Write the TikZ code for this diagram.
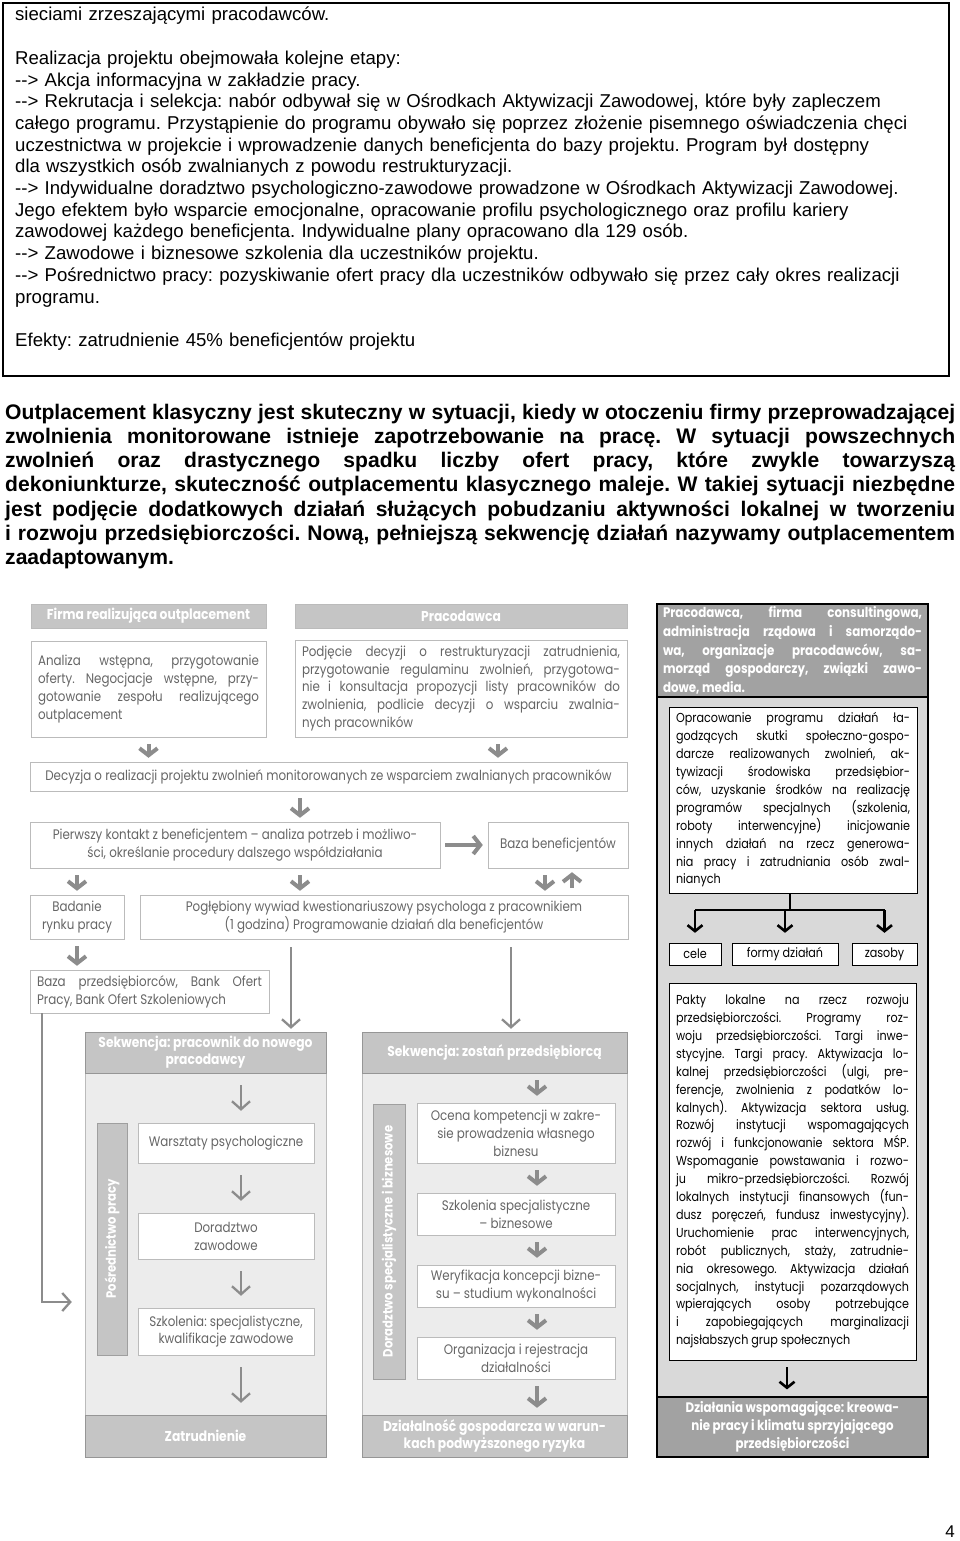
\documentclass[tikz,border=0pt]{standalone}
\usepackage{fontspec}
\setmainfont{Liberation Sans}
\newfontfamily\dfont{Poppins}[FakeStretch=0.86]
\usetikzlibrary{arrows.meta}
\frenchspacing

\definecolor{hdgray}{HTML}{C5C5C5}
\definecolor{bggray}{HTML}{ECECEC}
\definecolor{lngray}{HTML}{BBBBBB}
\definecolor{txgray}{HTML}{666666}
\definecolor{argray}{HTML}{8C8C8C}
\definecolor{rhgray}{HTML}{A2A2A2}
\definecolor{rbgray}{HTML}{D9D9D9}

\tikzset{
  hbar/.style={fill=hdgray, draw=lngray, text=white, align=center, inner sep=0pt,
    font=\dfont\bfseries\fontsize{14.3}{17}\selectfont},
  lbox/.style={fill=white, draw=lngray, text=txgray, inner xsep=7pt, inner ysep=0pt,
    font=\dfont\fontsize{13.8}{17.9}\selectfont},
  vbar/.style={fill=hdgray, draw=lngray!85!black, text=white, rotate=90, inner sep=0pt,
    font=\dfont\bfseries\fontsize{13.5}{15}\selectfont},
  rbox/.style={fill=white, draw=black, text=black, inner xsep=7pt, inner ysep=0pt,
    font=\dfont\fontsize{13}{17.9}\selectfont},
  chev/.style={draw=argray, line width=4pt, -{Straight Barb[length=7pt,width=18pt]},
    shorten <=7pt, shorten >=4pt},
  tarr/.style={draw=argray, line width=2.3pt, -{Straight Barb[length=8pt,width=18pt]}},
  barr/.style={draw=black, line width=2.6pt, -{Straight Barb[length=6pt,width=15pt]}},
}

\begin{document}
\begin{tikzpicture}[x=1pt,y=-1pt]
  \useasboundingbox (0,0) rectangle (960,1541);

  % ramka z opisem projektu
  \node[draw, line width=1.2pt, minimum width=946, minimum height=373] (frame) at (476,189.5) {};
  \node[anchor=base west, text width=930, align=left, inner sep=0pt,
    font=\fontsize{18.6}{21.7}\selectfont] (opis) at (15,21) {%
    sieciami zrzeszającymi pracodawców.\\
    \mbox{}\\
    Realizacja projektu obejmowała kolejne etapy:\\
    -{}-> Akcja informacyjna w zakładzie pracy.\\
    -{}-> Rekrutacja i selekcja: nabór odbywał się w Ośrodkach Aktywizacji Zawodowej, które były zapleczem\\
    całego programu. Przystąpienie do programu obywało się poprzez złożenie pisemnego oświadczenia chęci\\
    uczestnictwa w projekcie i wprowadzenie danych beneficjenta do bazy projektu. Program był dostępny\\
    dla wszystkich osób zwalnianych z powodu restrukturyzacji.\\
    -{}-> Indywidualne doradztwo psychologiczno-zawodowe prowadzone w Ośrodkach Aktywizacji Zawodowej.\\
    Jego efektem było wsparcie emocjonalne, opracowanie profilu psychologicznego oraz profilu kariery\\
    zawodowej każdego beneficjenta. Indywidualne plany opracowano dla 129 osób.\\
    -{}-> Zawodowe i biznesowe szkolenia dla uczestników projektu.\\
    -{}-> Pośrednictwo pracy: pozyskiwanie ofert pracy dla uczestników odbywało się przez cały okres realizacji\\
    programu.\\
    \mbox{}\\
    Efekty: zatrudnienie 45\% beneficjentów projektu};

  % akapit pogrubiony
  \node[anchor=base west, text width=950, align=justify, inner sep=0pt,
    font=\bfseries\fontsize{21.1}{24.3}\selectfont] (akapit) at (5,419) {%
    Outplacement klasyczny jest skuteczny w~sytuacji, kiedy w~otoczeniu firmy przeprowadzającej\linebreak
    zwolnienia monitorowane istnieje zapotrzebowanie na pracę. W~sytuacji powszechnych\linebreak
    zwolnień oraz drastycznego spadku liczby ofert pracy, które zwykle towarzyszą\linebreak
    dekoniunkturze, skuteczność outplacementu klasycznego maleje. W~takiej sytuacji niezbędne\linebreak
    jest podjęcie dodatkowych działań służących pobudzaniu aktywności lokalnej w~tworzeniu\linebreak
    i~rozwoju przedsiębiorczości. Nową, pełniejszą sekwencję działań nazywamy outplacementem\linebreak
    zaadaptowanym.};

  % schemat: kolumna lewa i srodkowa
  \node[hbar, minimum width=235, minimum height=24] (firma) at (148.5,616) {Firma realizująca outplacement};
  \node[hbar, minimum width=332, minimum height=24] (pracod) at (461,616) {Pracodawca};
  \node[lbox, text width=221, minimum height=96, align=justify] (analiza) at (148.5,689) {%
    Analiza wstępna, przygotowanie\linebreak oferty. Negocjacje wstępne, przy-\linebreak
    gotowanie zespołu realizującego\linebreak outplacement};
  \node[lbox, text width=318, minimum height=97, align=justify] (podjecie) at (461,688.5) {%
    Podjęcie decyzji o~restrukturyzacji zatrudnienia,\linebreak przygotowanie regulaminu zwolnień, przygotowa-\linebreak
    nie i~konsultacja propozycji listy pracowników do\linebreak zwolnienia, podlicie decyzji o~wsparciu zwalnia-\linebreak
    nych pracowników};
  \node[lbox, minimum width=597, minimum height=29] (decyzja) at (328.5,776.5)
    {Decyzja o~realizacji projektu zwolnień monitorowanych ze wsparciem zwalnianych pracowników};
  \node[lbox, align=center, minimum width=410, minimum height=46] (kontakt) at (235,845)
    {Pierwszy kontakt z~beneficjentem – analiza potrzeb i~możliwo-\\ści, określanie procedury dalszego współdziałania};
  \node[lbox, minimum width=140, minimum height=46] (bazab) at (558,845) {Baza beneficjentów};
  \node[lbox, align=center, minimum width=94, minimum height=44, inner xsep=2pt] (badanie) at (77,917) {Badanie\\rynku pracy};
  \node[lbox, align=center, minimum width=488, minimum height=44] (wywiad) at (384,917)
    {Pogłębiony wywiad kwestionariuszowy psychologa z~pracownikiem\\(1 godzina) Programowanie działań dla beneficjentów};
  \node[lbox, text width=225, minimum height=43, align=justify] (bazap) at (149.5,991.5) {%
    Baza przedsiębiorców, Bank Ofert\linebreak Pracy, Bank Ofert Szkoleniowych};

  % sekwencja: pracownik do nowego pracodawcy
  \node[fill=bggray, draw=lngray, minimum width=241, minimum height=425] (seqa) at (205.5,1244.5) {};
  \node[hbar, draw=lngray!80!black, minimum width=241, minimum height=41] (seqahd) at (205.5,1052.5) {Sekwencja: pracownik do nowego\\pracodawcy};
  \node[hbar, draw=lngray!80!black, minimum width=241, minimum height=42] (seqaft) at (205.5,1436) {Zatrudnienie};
  \node[vbar, minimum width=232, minimum height=30] (posr) at (112,1239) {Pośrednictwo pracy};
  \node[lbox, minimum width=176, minimum height=40] (warsz) at (226,1143) {Warsztaty psychologiczne};
  \node[lbox, align=center, minimum width=176, minimum height=46] (dorad) at (226,1236) {Doradztwo\\zawodowe};
  \node[lbox, align=center, minimum width=176, minimum height=47] (szkol) at (226,1331.5) {Szkolenia: specjalistyczne,\\kwalifikacje zawodowe};

  % sekwencja: zostan przedsiebiorca
  \node[fill=bggray, draw=lngray, minimum width=265, minimum height=425] (seqb) at (494.5,1244.5) {};
  \node[hbar, draw=lngray!80!black, minimum width=265, minimum height=41] (seqbhd) at (494.5,1052.5) {Sekwencja: zostań przedsiębiorcą};
  \node[hbar, draw=lngray!80!black, minimum width=265, minimum height=42] (seqbft) at (494.5,1436) {Działalność gospodarcza w~warun-\\kach podwyższonego ryzyka};
  \node[vbar, minimum width=275, minimum height=32] (dorb) at (389,1241.5) {Doradztwo specjalistyczne i~biznesowe};
  \node[lbox, align=center, minimum width=198, minimum height=60] (ocena) at (516,1133) {Ocena kompetencji w~zakre-\\sie prowadzenia własnego\\biznesu};
  \node[lbox, align=center, minimum width=198, minimum height=42] (szkb) at (516,1214) {Szkolenia specjalistyczne\\– biznesowe};
  \node[lbox, align=center, minimum width=198, minimum height=42] (weryf) at (516,1286) {Weryfikacja koncepcji bizne-\\su – studium wykonalności};
  \node[lbox, align=center, minimum width=198, minimum height=42] (organ) at (516,1358) {Organizacja i~rejestracja\\działalności};

  % kolumna prawa
  \node[fill=rbgray, draw=black, line width=1.2pt, minimum width=271, minimum height=853] (rcol) at (792.5,1030.5) {};
  \node[fill=rhgray, draw=black, line width=1.2pt, text=white, text width=259, inner xsep=6pt, inner ysep=0pt,
    minimum height=93, align=justify, font=\dfont\bfseries\fontsize{13.8}{18.8}\selectfont] (rhead) at (792.5,650.5) {%
    Pracodawca, firma consultingowa,\linebreak administracja rządowa i~samorządo-\linebreak
    wa, organizacje pracodawców, sa-\linebreak morząd gospodarczy, związki zawo-\linebreak dowe, media.};
  \node[rbox, text width=234, minimum height=186, align=justify] (oprac) at (793,800) {%
    Opracowanie programu działań ła-\linebreak godzących skutki społeczno-gospo-\linebreak
    darcze realizowanych zwolnień, ak-\linebreak tywizacji środowiska przedsiębior-\linebreak
    ców, uzyskanie środków na realizację\linebreak programów specjalnych (szkolenia,\linebreak
    roboty interwencyjne) inicjowanie\linebreak innych działań na rzecz generowa-\linebreak
    nia pracy i~zatrudniania osób zwal-\linebreak nianych};
  \node[rbox, minimum width=52, minimum height=22, inner xsep=2pt] (cele) at (695,954) {cele};
  \node[rbox, minimum width=106, minimum height=22, inner xsep=2pt] (formy) at (785,954) {formy działań};
  \node[rbox, minimum width=65, minimum height=22, inner xsep=2pt] (zasoby) at (884.5,954) {zasoby};
  \node[rbox, text width=233, minimum height=377, align=justify] (pakty) at (792.5,1171.5) {%
    Pakty lokalne na rzecz rozwoju\linebreak przedsiębiorczości. Programy roz-\linebreak
    woju przedsiębiorczości. Targi inwe-\linebreak stycyjne. Targi pracy. Aktywizacja lo-\linebreak
    kalnej przedsiębiorczości (ulgi, pre-\linebreak ferencje, zwolnienia z~podatków lo-\linebreak
    kalnych). Aktywizacja sektora usług.\linebreak Rozwój instytucji wspomagających\linebreak
    rozwój i~funkcjonowanie sektora MŚP.\linebreak Wspomaganie powstawania i~rozwo-\linebreak
    ju mikro-przedsiębiorczości. Rozwój\linebreak lokalnych instytucji finansowych (fun-\linebreak
    dusz poręczeń, fundusz inwestycyjny).\linebreak Uruchomienie prac interwencyjnych,\linebreak
    robót publicznych, staży, zatrudnie-\linebreak nia okresowego. Aktywizacja działań\linebreak
    socjalnych, instytucji pozarządowych\linebreak wpierających osoby potrzebujące\linebreak
    i~zapobiegających marginalizacji\linebreak najsłabszych grup społecznych};
  \node[fill=rhgray, draw=black, line width=1.2pt, text=white, align=center, inner sep=0pt,
    minimum width=271, minimum height=60, font=\dfont\bfseries\fontsize{13.8}{18}\selectfont] (rfoot) at (792.5,1427) {%
    Działania wspomagające: kreowa-\\nie pracy i~klimatu sprzyjającego\\przedsiębiorczości};

  \node[anchor=base east, inner sep=0pt, font=\fontsize{17}{20}\selectfont] (strona) at (955,1537) {4};

  % strzalki
  \coordinate (cx) at (300,0);
  \draw[chev] (analiza.south) -- (analiza.south |- decyzja.north);
  \draw[chev] ([xshift=37pt]podjecie.south) -- ([xshift=37pt]podjecie.south |- decyzja.north);
  \draw[chev] (decyzja.south -| cx) -- (kontakt.north -| cx);
  \draw[chev, shorten <=5pt, shorten >=5pt] (kontakt.east) -- (bazab.west);
  \draw[chev] (kontakt.south -| badanie.north) -- (badanie.north);
  \draw[chev] (kontakt.south -| cx) -- (wywiad.north -| cx);
  \draw[chev] ([xshift=-13pt]bazab.south) -- ([xshift=-13pt]bazab.south |- wywiad.north);
  \draw[chev] ([xshift=14pt]bazab.south |- wywiad.north) -- ([xshift=14pt]bazab.south);
  \draw[chev] (badanie.south) -- (badanie.south |- bazap.north);
  \draw[tarr, shorten <=8pt, shorten >=3pt] (wywiad.south -| 291,0) -- (seqahd.north -| 291,0);
  \draw[tarr, shorten <=8pt, shorten >=3pt] (wywiad.south -| 511,0) -- (seqbhd.north -| 511,0);
  \draw[tarr, shorten >=13pt] (bazap.south -| 42,0) |- (seqa.west |- 0,1302);
  \foreach \a/\b in {seqahd/warsz, warsz/dorad, dorad/szkol, szkol/seqaft}
    \draw[tarr, shorten <=12pt, shorten >=12pt] (\a.south -| 241,0) -- (\b.north -| 241,0);
  \foreach \a/\b in {seqbhd/ocena, ocena/szkb, szkb/weryf, weryf/organ, organ/seqbft}
    \draw[chev, shorten <=7pt, shorten >=7pt] (\a.south -| 537,0) -- (\b.north -| 537,0);
  \coordinate (fork) at (790,910);
  \draw[line width=2.6pt] (oprac.south -| fork) -- (fork);
  \draw[line width=2.6pt] (cele.north |- fork) -- (zasoby.north |- fork);
  \foreach \n in {cele, formy, zasoby}
    \draw[barr, shorten >=10pt] (\n.north |- fork) -- (\n.north);
  \draw[barr, shorten <=7pt, shorten >=7pt] (pakty.south -| 787,0) -- (rfoot.north -| 787,0);
\end{tikzpicture}
\end{document}
